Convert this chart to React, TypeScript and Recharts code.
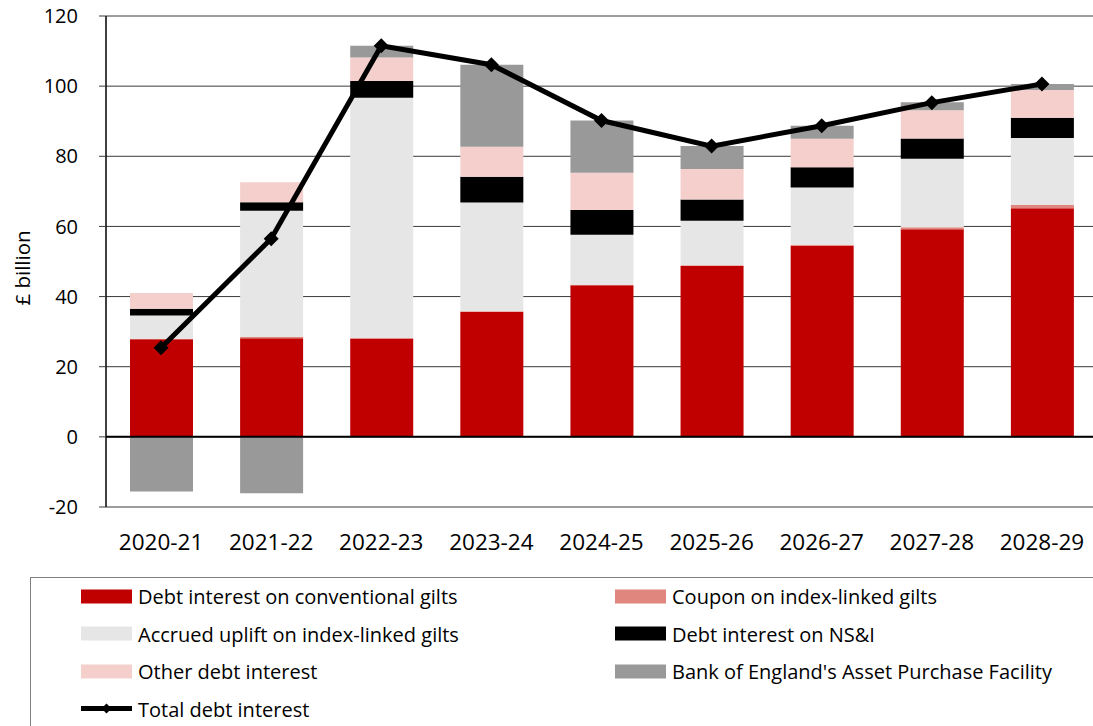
import {
  Bar,
  CartesianGrid,
  ComposedChart,
  Line,
  ReferenceLine,
  XAxis,
  YAxis,
} from "recharts";

const YEARS = ["2020-21", "2021-22", "2022-23", "2023-24", "2024-25", "2025-26", "2026-27", "2027-28", "2028-29"];
const CONVENTIONAL = [27.8, 28.1, 28.0, 35.6, 43.2, 48.7, 54.5, 59.2, 65.2];
const COUPON = [0.2, 0.4, 0.2, 0.2, 0.2, 0.2, 0.3, 0.6, 1.0];
const ACCRUED = [6.6, 36.0, 68.5, 31.0, 14.2, 12.7, 16.3, 19.5, 19.0];
const NSI = [1.9, 2.4, 4.8, 7.4, 7.1, 6.1, 5.8, 5.8, 5.8];
const OTHER = [4.5, 5.7, 6.7, 8.5, 10.6, 8.7, 8.1, 8.0, 7.9];
const APF = [-15.6, -16.1, 3.3, 23.4, 14.9, 6.5, 3.7, 2.3, 1.7];
const TOTAL = [25.4, 56.5, 111.5, 106.1, 90.2, 82.9, 88.7, 95.3, 100.6];
const Y_TICKS = [-20, 0, 20, 40, 60, 80, 100, 120];

const SERIES = [
  { key: "conventional", label: "Debt interest on conventional gilts", color: "#C00000" },
  { key: "coupon", label: "Coupon on index-linked gilts", color: "#E0867F" },
  { key: "accrued", label: "Accrued uplift on index-linked gilts", color: "#E6E6E6" },
  { key: "nsi", label: "Debt interest on NS&I", color: "#000000" },
  { key: "other", label: "Other debt interest", color: "#F4CFCB" },
  { key: "apf", label: "Bank of England's Asset Purchase Facility", color: "#999999" },
];

const DATA = YEARS.map((year, i) => ({
  year,
  conventional: CONVENTIONAL[i],
  coupon: COUPON[i],
  accrued: ACCRUED[i],
  nsi: NSI[i],
  other: OTHER[i],
  apf: APF[i],
  total: TOTAL[i],
}));

const FONT = '"Open Sans", sans-serif';

function Diamond(props: any) {
  const { cx, cy, index } = props;
  if (cx == null || cy == null) return null;
  const r = 7.5;
  return (
    <polygon
      key={`dia-${index}`}
      points={`${cx},${cy - r} ${cx + r},${cy} ${cx},${cy + r} ${cx - r},${cy}`}
      fill="#000"
    />
  );
}

export default function App() {
  return (
    <div
      style={{
        position: "absolute",
        left: 0,
        top: 0,
        width: 1093,
        height: 726,
        overflow: "hidden",
        background: "#fff",
        fontFamily: FONT,
      }}
    >
      <div
        style={{
          position: "absolute",
          left: 22,
          top: 268,
          transform: "translate(-50%, -50%) rotate(-90deg)",
          fontSize: 20.5,
          whiteSpace: "nowrap",
          color: "#000",
        }}
      >
        £ billion
      </div>

      <ComposedChart
        width={1100}
        height={560}
        data={DATA}
        stackOffset="sign"
        margin={{ top: 16, right: 3, left: 0, bottom: 0 }}
      >
        <CartesianGrid vertical={false} stroke="#3a3a3a" strokeWidth={1} />
        <XAxis
          dataKey="year"
          height={53}
          axisLine={false}
          tickLine={false}
          tickSize={0}
          tickMargin={27}
          tick={{ fontSize: 22.5, fill: "#000", fontFamily: FONT }}
        />
        <YAxis
          width={106}
          domain={[-20, 120]}
          ticks={Y_TICKS}
          interval={0}
          tickSize={7}
          tickMargin={21}
          axisLine={{ stroke: "#000", strokeWidth: 1.5 }}
          tickLine={{ stroke: "#3a3a3a" }}
          tick={{ fontSize: 20, fill: "#000", fontFamily: FONT }}
        />
        {SERIES.map((s) => (
          <Bar
            key={s.key}
            dataKey={s.key}
            stackId="a"
            fill={s.color}
            barSize={63}
            isAnimationActive={false}
          />
        ))}
        <ReferenceLine y={0} stroke="#000" strokeWidth={2} />
        <Line
          dataKey="total"
          stroke="#000"
          strokeWidth={5}
          dot={<Diamond />}
          activeDot={false}
          isAnimationActive={false}
        />
      </ComposedChart>

      <div
        style={{
          position: "absolute",
          left: 30,
          top: 577,
          width: 1100,
          height: 200,
          border: "1px solid #808080",
          boxSizing: "border-box",
        }}
      >
        {SERIES.map((s, i) => (
          <LegendItem
            key={s.key}
            left={50}
            top={18 + Math.floor(i / 2) * 37.6}
            col={i % 2}
            label={s.label}
          >
            <div style={{ width: 51, height: 14, background: s.color }} />
          </LegendItem>
        ))}
        <LegendItem left={50} top={18 + 3 * 37.6} col={0} label="Total debt interest">
          <svg width={51} height={14}>
            <line x1={0} y1={7} x2={51} y2={7} stroke="#000" strokeWidth={5} />
            <polygon points="25.5,2 30.5,7 25.5,12 20.5,7" fill="#000" />
          </svg>
        </LegendItem>
      </div>
    </div>
  );
}

function LegendItem({
  left,
  top,
  col,
  label,
  children,
}: {
  left: number;
  top: number;
  col: number;
  label: string;
  children: any;
}) {
  return (
    <div
      style={{
        position: "absolute",
        left: col === 0 ? left : 584,
        top,
        transform: "translateY(-50%)",
        display: "flex",
        alignItems: "center",
        gap: 6,
        whiteSpace: "nowrap",
        fontSize: 20,
        color: "#000",
      }}
    >
      {children}
      <span>{label}</span>
    </div>
  );
}
